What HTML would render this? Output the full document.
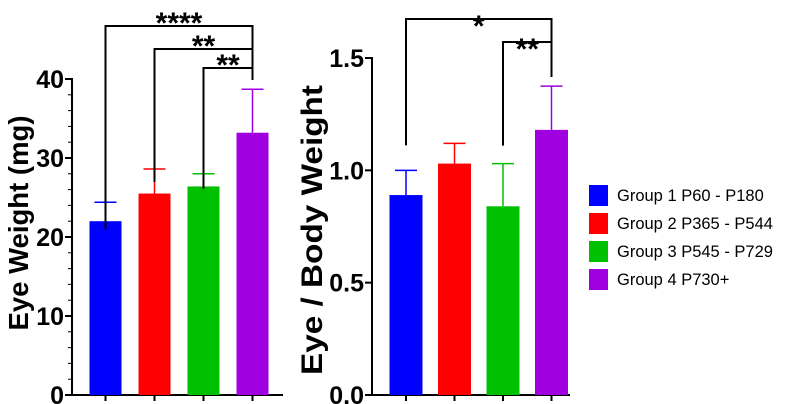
<!DOCTYPE html>
<html><head><meta charset="utf-8"><style>
html,body{margin:0;padding:0;background:#fff;}
svg{display:block;font-family:"Liberation Sans",Arial,sans-serif;}
</style></head><body>
<svg id="c" width="800" height="404" xmlns="http://www.w3.org/2000/svg"></svg>
<script>
const groups = ["Group 1 P60 - P180","Group 2 P365 - P544","Group 3 P545 - P729","Group 4 P730+"];
const colors = ["#0000ff","#ff0000","#00c000","#a000e0"];
const eyeWeight = [22.0, 25.5, 26.4, 33.2];
const eyeWeightErr = [24.4, 28.6, 28.0, 38.7];
const ratio = [0.89, 1.03, 0.84, 1.18];
const ratioErr = [1.00, 1.12, 1.03, 1.375];
const leftTicks = [0,10,20,30,40];
const rightTicks = ["0.0","0.5","1.0","1.5"];
const leftSig = [{a:0,b:3,label:"****"},{a:1,b:3,label:"**"},{a:2,b:3,label:"**"}];
const rightSig = [{a:0,b:3,label:"*"},{a:2,b:3,label:"**"}];

const svg = document.getElementById('c');
const NS = "http://www.w3.org/2000/svg";
function mk(tag, attrs, parent){const e=document.createElementNS(NS,tag);for(const k in attrs)e.setAttribute(k,attrs[k]);(parent||svg).appendChild(e);return e;}

function panel(cfg){
  const g = mk('g',{});
  
  
  const y = v => cfg.y0 - (v - cfg.min) / (cfg.max - cfg.min) * (cfg.y0 - cfg.yTop);
  const xc = i => cfg.x0 + i * cfg.step;
  const ya = mk('line',{x1:cfg.ax,y1:y(cfg.max)-1,x2:cfg.ax,y2:cfg.y0,stroke:'#000','stroke-width':2},g);
  
  
  const xa = mk('line',{x1:cfg.ax,y1:cfg.y0,x2:cfg.axEnd,y2:cfg.y0,stroke:'#000','stroke-width':2},g);
  
  
  cfg.ticks.forEach(t=>{
    const v=parseFloat(t);
    mk('line',{x1:cfg.ax-7,y1:y(v),x2:cfg.ax,y2:y(v),stroke:'#000','stroke-width':2},g);
    const tx = mk('text',{x:cfg.ax-8,y:y(v)+9,'text-anchor':'end','font-size':25,'font-weight':'bold',fill:'#000'},g);
    tx.textContent=t;
    
    
  });
  if(cfg.minor){for(let v=cfg.min;v<=cfg.max;v+=cfg.minor){mk('line',{x1:cfg.ax-4,y1:y(v),x2:cfg.ax,y2:y(v),stroke:'#000','stroke-width':1},g);}}
  cfg.vals.forEach((v,i)=>{
    const c=colors[i], cx=xc(i);
    mk('line',{x1:cx,y1:y(v),x2:cx,y2:y(cfg.errs[i]),stroke:c,'stroke-width':1.5},g);
    mk('line',{x1:cx-11,y1:y(cfg.errs[i]),x2:cx+11,y2:y(cfg.errs[i]),stroke:c,'stroke-width':1.5},g);
    const r=mk('rect',{x:cx-cfg.bw/2,y:y(v),width:cfg.bw,height:cfg.y0-y(v),fill:c},g);
    
    
    mk('line',{x1:cx,y1:cfg.y0,x2:cx,y2:cfg.y0+6,stroke:'#000','stroke-width':2},g);
  });
  cfg.sig.forEach((s,k)=>{
    const by=cfg.sigY[k];
    const b=mk('path',{d:`M${xc(s.a)},${y(cfg.errs[s.a])-cfg.legGap[k]} V${by} H${xc(s.b)} V${cfg.rightLeg}`,fill:'none',stroke:'#000','stroke-width':2},g);
    
    
    const t=mk('text',{x:(xc(s.a)+xc(s.b))/2,y:by+cfg.starDy,'text-anchor':'middle','font-size':30,'font-weight':'bold',fill:'#000'},g);
    t.textContent=s.label;
    
    
  });
  const tt=mk('text',{transform:`translate(${cfg.titleX},${cfg.titleY}) rotate(-90)`,'text-anchor':'middle','font-size':cfg.titleSize,'font-weight':'bold',fill:'#000',textLength:cfg.titleLen,lengthAdjust:'spacingAndGlyphs'},g);
  tt.textContent=cfg.title;
  
  
}

panel({name:'eye-weight-chart',min:0,max:40,y0:395,yTop:79,ax:72,axEnd:283,x0:105.5,step:49,bw:32,
  vals:eyeWeight,errs:eyeWeightErr,ticks:leftTicks.map(String),minor:2,sig:leftSig,
  sigY:[26,49,68],legGap:[-27,-13,-15],rightLeg:80,starDy:7,title:'Eye Weight (mg)',titleX:28,titleY:223,titleSize:28,titleLen:215});
panel({name:'eye-body-ratio-chart',min:0,max:1.5,y0:395,yTop:58,ax:372,axEnd:570,x0:406,step:48.5,bw:33,
  vals:ratio,errs:ratioErr,ticks:rightTicks,minor:0,sig:rightSig,
  sigY:[19,42],legGap:[25,18],rightLeg:77,starDy:17,title:'Eye / Body Weight',titleX:322,titleY:230,titleSize:30,titleLen:290});

const lg=mk('g',{});


groups.forEach((n,i)=>{
  const cy=195+i*28;
  const e=mk('g',{},lg);
  
  
  mk('rect',{x:589,y:cy-10,width:19,height:21,fill:colors[i]},e);
  const t=mk('text',{x:617,y:cy+6,'font-size':16.5,fill:'#000'},e);
  t.textContent=n;
});
</script>
</body></html>
